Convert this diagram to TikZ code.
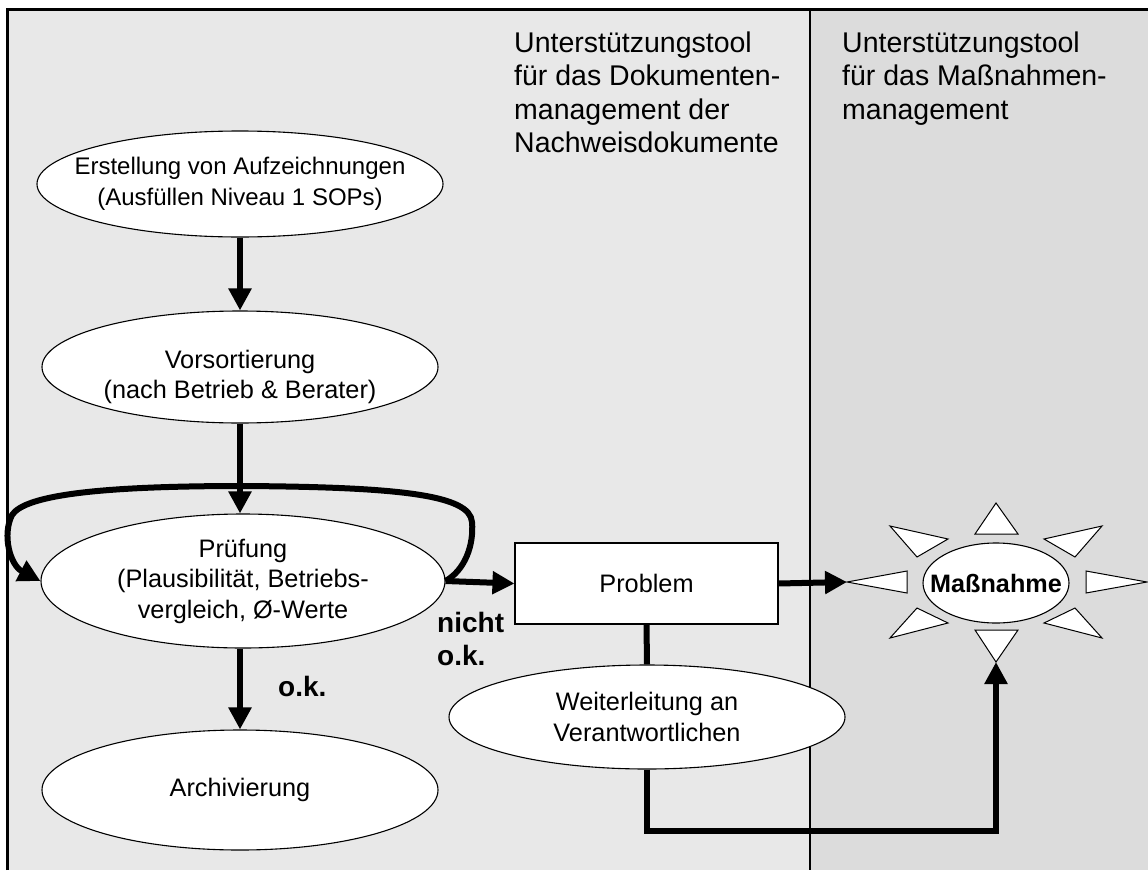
\documentclass[tikz,border=0pt]{standalone}
\usepackage{fontspec}
\setmainfont{Liberation Sans}
\usetikzlibrary{shapes.geometric,arrows.meta}
\definecolor{laneA}{HTML}{E8E8E8}
\definecolor{laneB}{HTML}{DCDCDC}
\begin{document}
\begin{tikzpicture}[x=1pt,y=-1pt,
  txt/.style={font=\fontsize{25.3}{30.5}\selectfont},
  oval/.style={ellipse, draw, line width=1.1pt, fill=white, inner sep=0pt},
  inner/.style={txt, align=center, inner sep=0pt},
  box/.style={rectangle, draw, line width=1.1pt, fill=white, inner sep=0pt, txt},
  flow/.style={line width=6pt, -{Triangle[length=22pt,width=22pt]}},
  link/.style={line width=6pt},
  ray/.style={draw, line width=1pt, fill=white, line join=miter},
  lbl/.style={font=\bfseries\fontsize{28}{33}\selectfont, align=left, inner sep=0pt},
  head/.style={font=\fontsize{28.5}{33.3}\selectfont, align=left, inner sep=0pt, anchor=north west},
]
\useasboundingbox (0,0) rectangle (1148,870);

% swim lanes
\fill[laneA] (7,9) rectangle (810,870);
\fill[laneB] (810,9) rectangle (1148,870);
\draw[line width=1.3pt] (810,9) -- (810,870);
\draw[line width=2.6pt] (7.3,870) -- (7.3,9.3) -- (1148,9.3);

% lane headings
\node[head] (hdoc) at (514,31.6) {Unterstützungstool\\für das Dokumenten-\\management der\\Nachweisdokumente};
\node[head] (hact) at (842,31.6) {Unterstützungstool\\für das Maßnahmen-\\management};

% process steps
\node[oval, minimum width=406pt, minimum height=106pt,
      label={[inner, font=\fontsize{24}{31}\selectfont]center:Erstellung von Aufzeichnungen\\(Ausfüllen Niveau 1 SOPs)}] (rec) at (240,184) {};
\node[oval, minimum width=396pt, minimum height=112pt,
      label={[inner, yshift=-10pt]center:Vorsortierung\\(nach Betrieb \& Berater)}] (pre) at (240,367) {};
\node[oval, minimum width=404pt, minimum height=134pt,
      label={[inner]center:Prüfung\\(Plausibilität, Betriebs-\\vergleich, Ø-Werte}] (chk) at (243,581) {};
\node[oval, minimum width=396pt, minimum height=120pt,
      label={[inner]center:Archivierung}] (arc) at (240,790) {};
\node[box, minimum width=263pt, minimum height=81pt] (prb) at (646.5,583.5) {Problem};
\node[oval, minimum width=396pt, minimum height=104pt,
      label={[inner]center:Weiterleitung an\\Verantwortlichen}] (fwd) at (647,717) {};

% measure with its rays
\foreach \p in {
  {(975,534) -- (996,503) -- (1018,534)},
  {(975,630) -- (996,662) -- (1018,630)},
  {(907,571) -- (847,582) -- (907,593)},
  {(1086,571) -- (1147,582) -- (1086,593)},
  {(948,539) -- (890,526) -- (917,557)},
  {(1044,539) -- (1102,526) -- (1075,557)},
  {(948,623) -- (890,638) -- (917,608)},
  {(1044,623) -- (1102,638) -- (1075,608)}}
  {\draw[ray] \p -- cycle;}
\node[oval, minimum width=146pt, minimum height=80pt,
      label={[inner, font=\bfseries\fontsize{25.2}{30}\selectfont]center:Maßnahme}] (act) at (996,583) {};
\coordinate (tipL) at (847,582);
\coordinate (tipB) at (996,662);
\coordinate (bend) at (996,831);

% connectors
\draw[flow] (rec.south) -- (pre.north);
\draw[flow] (pre.south) -- (pre.south |- chk.north);
\draw[flow] (arc.north |- chk.south) -- (arc.north);
\draw[flow] (chk.east) .. controls (465,570) and (474,545) .. (472,522)
  .. controls (470,495) and (400,487) .. (243,486)
  .. controls (100,486) and (25,495) .. (12,515)
  .. controls (2,535) and (10,565) .. (chk.west);
\draw[flow] (chk.east) -- (prb.west);
\draw[link] (prb.south) -- (fwd.north);
\draw[flow] (prb.east) -- (tipL);
\draw[flow] (fwd.south) |- (bend) -- (tipB);

% branch labels
\node[lbl, anchor=north west] (nok) at (437,612) {nicht\\o.k.};
\node[lbl, anchor=base west] (ok) at (278,696) {o.k.};
\end{tikzpicture}
\end{document}
